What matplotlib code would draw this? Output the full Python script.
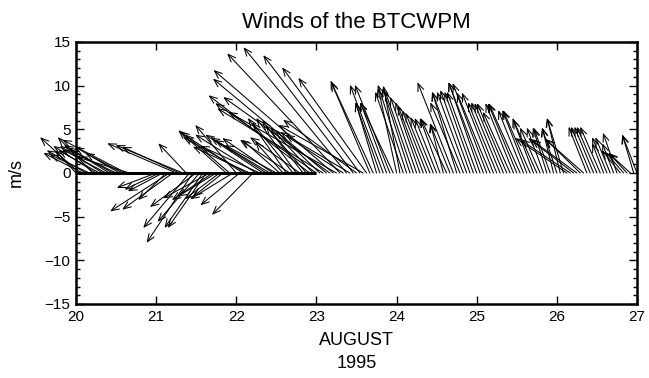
import numpy as np
import matplotlib
matplotlib.use("Agg")
import matplotlib.pyplot as plt

plt.rcParams['font.family'] = ['Liberation Sans', 'DejaVu Sans']

# hourly wind components (m/s), one row per day, starting 20 Aug 00h
nan = np.nan
u = [
    -2.4, -4.5, -4.5, -4.5, -4.5, -4.0, -4.9, -4.7, -4.9, -5.0, -5.2, -5.1,
    -5.3, -5.1, -4.3, -7.3, -5.9, nan, nan, nan, nan, nan, nan, nan,
    # 21
    -4.5, -4.0, -4.0, -3.2, -6.8, -5.8, -7.9, -6.6, -7.7, -3.2, -5.3, -5.3,
    -5.3, -4.8, -4.4, -4.4, -5.3, -4.7, -4.4, -4.0, -3.4, -5.5, -5.1, -4.9,
    # 22
    -4.7, -4.5, -7.2, -7.2, -6.5, -4.7, -7.0, -6.8, -6.6, -6.4, -6.3, -5.8,
    -5.9, -4.3, -3.2, -4.4, -5.7, -4.7, -4.6, -5.7, -4.7, -4.7, -11.6, -4.9,
    # 23
    -11.6, -5.1, -12.1, -13.0, -12.2, -13.7, -12.4, -12.9, -7.2, -11.8, -7.4, -10.3,
    -8.4, -8.9, -9.7, -7.8, -4.5, -4.8, -2.4, -2.8, -3.8, -3.0, -4.0, -3.8,
    # 24
    -2.1, -1.9, -3.2, -3.3, -3.1, -3.2, -3.0, -2.8, -2.9, -2.8, -2.8, -2.6,
    -2.5, -2.3, -1.5, -3.0, -2.3, -4.1, -2.8, -3.4, -3.6, -3.4, -3.4, -3.3,
    # 25
    -3.4, -3.6, -4.0, -3.9, -3.8, -3.6, -3.3, -3.3, -3.3, -3.4, -3.1, -3.2,
    -3.3, -3.6, -2.9, -2.8, -3.1, -2.4, -2.7, -2.3, -1.9, -1.6, -1.9, -1.3,
    # 26
    -1.7, -1.5, -1.9, -5.9, -5.7, -5.2, -5.2, -4.0, -4.4, -2.1, -2.2, -2.2,
    -2.3, -2.3, -1.3, -1.7, -1.7, -1.3, -1.6, -2.1, -2.1, -2.1, -2.5, -1.3,
    # 27
    -1.7,
]
v = [
    2.6, 4.1, 2.3, 2.6, 2.1, 4.1, 3.1, 2.6, 3.1, 2.7, 3.2, 2.9,
    2.6, 3.0, 2.3, 3.8, 1.8, nan, nan, nan, nan, nan, nan, nan,
    # 21
    -1.7, -1.9, -2.1, -3.1, -4.4, -4.2, 3.4, 3.0, 3.2, 3.4, -6.3, -8.0,
    -3.9, -5.6, -6.3, -6.3, -2.9, -3.1, -2.7, -3.0, -2.7, 4.9, 4.4, -3.0,
    # 22
    5.5, -3.7, 4.7, 4.1, 3.0, -4.8, 4.4, 3.1, 4.4, 4.1, 3.8, 4.0,
    3.2, 3.8, 3.6, 6.3, 3.8, 5.8, 6.3, 4.1, 6.0, 5.5, 8.9, 5.2,
    # 23
    8.0, 4.9, 7.4, 10.8, 8.7, 11.8, 7.0, 13.7, 4.7, 14.4, 4.4, 13.5,
    6.1, 12.1, 5.5, 10.9, 10.6, 10.4, 8.1, 8.1, 10.1, 8.1, 10.1, 8.1,
    # 24
    9.7, 10.0, 9.3, 10.1, 9.7, 9.3, 8.7, 8.1, 7.7, 7.2, 6.9, 6.4,
    6.3, 6.3, 5.7, 6.3, 5.7, 10.4, 9.3, 8.1, 9.3, 9.3, 9.5, 9.3,
    # 25
    9.3, 10.4, 10.4, 10.3, 9.2, 9.2, 8.1, 8.1, 8.0, 8.0, 7.0, 8.0,
    8.0, 8.0, 7.2, 7.2, 7.2, 6.3, 6.1, 5.2, 5.2, 5.2, 5.2, 5.2,
    # 26
    5.2, 6.3, 6.3, 4.0, 3.8, 4.0, 3.8, 3.9, 3.9, 5.3, 5.3, 5.3,
    5.3, 5.3, 3.4, 4.1, 4.1, 3.4, 4.6, 2.6, 2.4, 2.3, 2.3, 4.4,
    # 27
    4.4,
]

day0 = 20
t = day0 + np.arange(len(u)) / 24.0
zero_line = [20, 23]
xticks = [20, 21, 22, 23, 24, 25, 26, 27]
yticks = [-15, -10, -5, 0, 5, 10, 15]

fig = plt.figure(figsize=(6.49, 3.78), dpi=100)
ax = fig.add_axes([0.1171, 0.1958, 0.8644, 0.6931])
ax.set_xlim(20, 27)
ax.set_ylim(-15, 15)

ax.plot(zero_line, [0, 0], color='black', lw=2.2, solid_capstyle='butt')

# stick arrows: same length scale as the y axis (points per m/s)
p0 = ax.transData.transform((0, 0))
p1 = ax.transData.transform((0, 1))
pts = (p1[1] - p0[1]) * 72.0 / fig.dpi

for ti, ui, vi in zip(t, u, v):
    if np.isnan(ui) or np.isnan(vi):
        continue
    ax.annotate('', xy=(ti, 0), xytext=(ui * pts, vi * pts),
                textcoords='offset points', annotation_clip=False,
                arrowprops=dict(arrowstyle='<-,head_length=0.55,head_width=0.22',
                                color='black', lw=0.75, shrinkA=0, shrinkB=0))

ax.set_xticks(xticks)
ax.set_yticks(yticks)
ax.set_yticks(np.arange(-15, 16, 1), minor=True)
ax.tick_params(which='both', direction='in', top=True, right=True,
               labelsize=11, pad=4)
ax.tick_params(which='major', length=6, width=1)
ax.tick_params(which='minor', length=3, width=1)
ax.set_yticklabels(['\u221215', '\u221210', '\u22125', '0', '5', '10', '15'])
for s in ax.spines.values():
    s.set_linewidth(1.8)

ax.set_ylabel('m/s', fontsize=13, labelpad=14)
ax.set_xlabel('AUGUST\n1995', fontsize=13, linespacing=1.5, labelpad=6)
ax.set_title('Winds of the BTCWPM', fontsize=16, pad=10)

fig.savefig('out.png', dpi=100)
